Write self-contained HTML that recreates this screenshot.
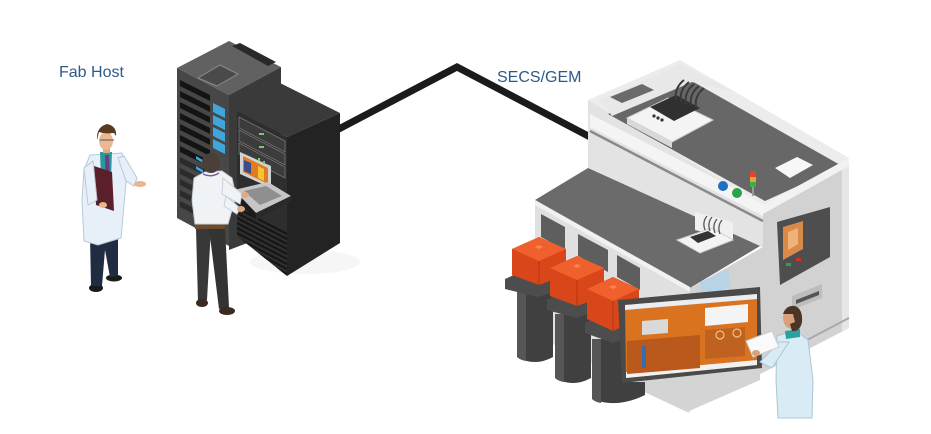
<!DOCTYPE html>
<html><head><meta charset="utf-8"><style>
html,body{margin:0;padding:0;background:#fff;}
svg{display:block}
text{font-family:"Liberation Sans",Arial,sans-serif;}
</style></head><body>
<svg width="931" height="434" viewBox="0 0 931 434" xmlns="http://www.w3.org/2000/svg">
<defs>
<clipPath id="rf"><polygon points="237,111 287,137 287,276 237,236"/></clipPath>
</defs>
<rect width="931" height="434" fill="#fff"/>

<!-- labels -->
<text x="59" y="77" font-size="16" fill="#2c5a8c">Fab Host</text>
<text x="497" y="82" font-size="16" fill="#2c5a8c">SECS/GEM</text>

<!-- cable -->
<polyline points="335,131 457,67 592,138" fill="none" stroke="#1b1b1b" stroke-width="7" stroke-linejoin="miter"/>

<!-- ===== LEFT RACK ===== -->
<polygon points="177,68 229,41 281,67 229,95" fill="#616161"/>
<polygon points="198,78 220,65 238,74 217,86" fill="#4a4a4a" stroke="#8c8c8c" stroke-width="1"/>
<polygon points="232,46 240,43 276,62 268,66" fill="#2a2a2a"/>
<polygon points="177,68 229,95 229,246 177,218" fill="#474747"/>
<polygon points="229,95 281,67 281,230 229,250" fill="#3a3a3a"/>
<g fill="#141414">
<polygon points="180,80 210,95 210,101 180,86"/>
<polygon points="180,91 210,106 210,112 180,97"/>
<polygon points="180,102 210,117 210,123 180,108"/>
<polygon points="180,113 210,128 210,134 180,119"/>
<polygon points="180,124 210,139 210,145 180,130"/>
<polygon points="180,135 210,150 210,156 180,141"/>
<polygon points="180,146 210,161 210,167 180,152"/>
</g>
<g fill="#2b2b2b">
<polygon points="180,157 210,172 210,178 180,163"/>
<polygon points="180,168 210,183 210,189 180,174"/>
<polygon points="180,179 210,194 210,200 180,185"/>
<polygon points="180,190 210,205 210,211 180,196"/>
<polygon points="180,201 210,216 210,222 180,207"/>
</g>
<g fill="#3ea6dc">
<polygon points="213,103 225,109 225,118 213,112"/>
<polygon points="213,115 225,121 225,130 213,124"/>
<polygon points="213,127 225,133 225,142 213,136"/>
<polygon points="213,139 225,145 225,154 213,148"/>
<polygon points="196,156 203,160 203,163 196,159"/>
<polygon points="196,166 203,170 203,173 196,169"/>
</g>

<!-- ===== RIGHT RACK ===== -->
<ellipse cx="305" cy="262" rx="55" ry="12" fill="#f6f6f6"/>
<polygon points="237,111 278,82 340,113 287,137" fill="#3a3a3a"/>
<polygon points="237,111 287,137 287,276 237,236" fill="#2e2e2e"/>
<polygon points="287,137 340,113 340,243 287,276" fill="#232323"/>
<g clip-path="url(#rf)">
<polygon points="239,117 285,141 285,152 239,128" fill="#3c3c3c" stroke="#777" stroke-width="0.8"/>
<polygon points="239,130 285,154 285,165 239,141" fill="#3c3c3c" stroke="#777" stroke-width="0.8"/>
<polygon points="239,143 285,167 285,178 239,154" fill="#3c3c3c" stroke="#777" stroke-width="0.8"/>
<rect x="259" y="133" width="5" height="2" fill="#6fd06f"/>
<rect x="259" y="146" width="5" height="2" fill="#6fd06f"/>
<g stroke="#151515" stroke-width="2">
<line x1="237" y1="208" x2="287" y2="234"/><line x1="237" y1="213" x2="287" y2="239"/>
<line x1="237" y1="218" x2="287" y2="244"/><line x1="237" y1="223" x2="287" y2="249"/>
<line x1="237" y1="228" x2="287" y2="254"/><line x1="237" y1="233" x2="287" y2="259"/>
<line x1="237" y1="238" x2="287" y2="264"/><line x1="237" y1="243" x2="287" y2="269"/>
<line x1="237" y1="248" x2="287" y2="274"/>
</g>
</g>
<!-- laptop -->
<polygon points="240,152 271,166 271,188 240,174" fill="#d2d2d2"/>
<polygon points="243,156 268,168 268,184 243,172" fill="#e07b22"/>
<polygon points="244,160 251,163 251,174 244,171" fill="#3a4c8c"/>
<polygon points="258,166 264,169 264,181 258,178" fill="#f3c532"/>
<rect x="258" y="158" width="2" height="3" fill="#6fd06f"/><rect x="263" y="161" width="2" height="3" fill="#6fd06f"/>
<polygon points="234,190 268,182 291,196 256,213" fill="#c6c6c6"/>
<polygon points="244,191 266,186 282,196 260,205" fill="#8f8f8f"/>
<polygon points="234,190 256,213 256,220 234,197" fill="#1c1c1c"/>
<polygon points="256,213 291,196 291,202 256,220" fill="#2a2a2a"/>

<!-- ===== LEFT PERSON ===== -->
<ellipse cx="96" cy="288" rx="7" ry="4" fill="#1b1b1b"/>
<ellipse cx="114" cy="278" rx="8" ry="3.5" fill="#1b1b1b"/>
<polygon points="90,236 118,234 118,276 110,277 105,250 102,286 91,286" fill="#1f2c42"/>
<polygon points="90,155 122,153 127,172 121,238 98,245 84,241 82,200 84,170" fill="#e7f0f8" stroke="#b7c9d9" stroke-width="1"/>
<polygon points="118,158 124,156 137,178 134,186 126,181" fill="#e7f0f8" stroke="#b7c9d9" stroke-width="1"/>
<ellipse cx="140" cy="184" rx="6" ry="3" fill="#e9b58f"/>
<polygon points="100,152 112,152 110,206 102,206" fill="#2a9a96"/>
<polygon points="105,155 109,155 110,190 106,195" fill="#6d3b8c"/>
<polygon points="94,166 112,172 114,211 96,205" fill="#5b1f29"/>
<polygon points="84,168 93,161 97,200 88,205" fill="#e7f0f8" stroke="#b7c9d9" stroke-width="1"/>
<ellipse cx="103" cy="205" rx="4" ry="3" fill="#e9b58f"/>
<rect x="103" y="145" width="7" height="8" fill="#e0a983"/>
<ellipse cx="106" cy="141" rx="7" ry="9" fill="#eab893"/>
<path d="M97,140 Q96,127 107,124 Q117,126 116,136 L114,133 Q105,134 99,132 Z" fill="#5b3a22"/>
<line x1="100" y1="140" x2="114" y2="140" stroke="#555" stroke-width="1"/>

<!-- ===== SERVER PERSON ===== -->
<polygon points="196,228 211,228 207,300 198,302" fill="#383838"/>
<polygon points="209,228 225,228 229,307 219,309" fill="#333"/>
<ellipse cx="202" cy="303" rx="6" ry="4" fill="#3a2a22"/>
<ellipse cx="227" cy="311" rx="8" ry="4" fill="#3a2a22"/>
<rect x="195" y="222" width="30" height="7" fill="#6e4b2c"/>
<polygon points="194,178 205,172 222,171 232,178 236,196 228,224 195,224 192,200" fill="#f0f3f6" stroke="#c7d0d8" stroke-width="1"/>
<polygon points="223,178 242,194 240,204 222,194" fill="#f0f3f6" stroke="#c7d0d8" stroke-width="1"/>
<polygon points="226,196 240,208 237,214 224,206" fill="#f0f3f6" stroke="#c7d0d8" stroke-width="1"/>
<ellipse cx="245" cy="195" rx="4" ry="3" fill="#e0a983"/>
<ellipse cx="241" cy="209" rx="4" ry="3" fill="#e0a983"/>
<path d="M203,174 Q211,178 219,173" fill="none" stroke="#7a5aa0" stroke-width="1.5"/>
<ellipse cx="211" cy="163" rx="9" ry="10" fill="#4b4038"/>

<!-- ===== MACHINE ===== -->
<!-- right face -->
<polygon points="763,205 849,158 849,328 687,412 687,290 763,247" fill="#d2d2d2"/>
<polygon points="842,163 849,158 849,328 842,332" fill="#e6e6e6"/>
<line x1="687" y1="403" x2="849" y2="318" stroke="#a9a9a9" stroke-width="2"/>
<!-- upper front face -->
<polygon points="588,100 763,205 763,248 588,168" fill="#e3e3e3"/>
<polygon points="590,114 763,203 763,216 590,127" fill="#f4f4f4"/>
<line x1="590" y1="131" x2="763" y2="221" stroke="#8a8a8a" stroke-width="2.5"/>
<!-- top -->
<polygon points="588,100 680,60 849,158 763,205" fill="#ececec"/>
<polygon points="608,114 690,80 842,166 765,201" fill="#676767"/>
<polygon points="600,100 680,64 735,92 692,82 612,116" fill="#e8e8e8"/>
<polygon points="610,97 642,84 654,90 622,103" fill="#6a6a6a"/>
<polygon points="763,205 849,158 849,166 763,214" fill="#f2f2f2"/>
<!-- top device -->
<polygon points="627,118 668,98 713,120 672,142" fill="#f4f4f4" stroke="#cfcfcf" stroke-width="1"/>
<polygon points="627,118 672,142 672,148 627,124" fill="#d8d8d8"/>
<polygon points="650,107 676,95 700,108 674,121" fill="#303030"/>
<circle cx="654" cy="116" r="1.6" fill="#333"/><circle cx="658" cy="118" r="1.6" fill="#333"/><circle cx="662" cy="120" r="1.6" fill="#333"/>
<g fill="none" stroke="#3a3a3a" stroke-width="2">
<path d="M676,100 Q674,88 684,80"/><path d="M681,102 Q679,90 689,82"/><path d="M686,104 Q684,92 694,84"/><path d="M691,106 Q689,94 699,86"/><path d="M696,108 Q694,96 704,88"/>
</g>
<polygon points="775,168 797,157 813,165 790,178" fill="#f7f7f7"/>
<circle cx="723" cy="186" r="5" fill="#1f6fc2"/>
<circle cx="737" cy="193" r="5" fill="#2aa34a"/>
<rect x="750" y="171" width="6" height="6" fill="#e0452a"/>
<rect x="750" y="177" width="6" height="5" fill="#e8a630"/>
<rect x="750" y="182" width="6" height="5" fill="#3fae4a"/>
<rect x="752" y="187" width="2" height="9" fill="#999"/>

<!-- lower block -->
<polygon points="535,203 690,290 690,413 535,335" fill="#e0e0e0"/>
<polygon points="535,200 588,168 760,246 690,288" fill="#6b6b6b"/>
<polygon points="535,200 690,287 690,292 535,205" fill="#f1f1f1"/>
<polygon points="541,214 565,227 565,250 541,237" fill="#5e5e5e"/>
<polygon points="578,234 608,250 608,272 578,256" fill="#5e5e5e"/>
<polygon points="617,255 640,268 640,290 617,277" fill="#5e5e5e"/>
<polygon points="700,282 729,269 730,287 702,298" fill="#b9d3e6"/>
<!-- right face details -->
<polygon points="777,222 830,207 830,257 780,285" fill="#4e4e4e"/>
<polygon points="783,227 803,221 803,249 783,260" fill="#d88a4a"/>
<polygon points="788,232 798,228 798,244 788,250" fill="#f0b27a"/>
<rect x="786" y="263" width="5" height="3" fill="#2aa34a"/><rect x="796" y="258" width="5" height="3" fill="#d23030"/>
<polygon points="792,296 822,284 822,298 792,310" fill="#bdbdbd"/>
<polygon points="796,300 819,291 819,295 796,304" fill="#555"/>
<!-- small device on lower top -->
<polygon points="695,212 733,222 733,240 695,230" fill="#f0f0f0"/>
<polygon points="677,240 712,228 733,240 700,253" fill="#f4f4f4" stroke="#cfcfcf" stroke-width="1"/>
<polygon points="690,237 708,231 716,236 698,243" fill="#333"/>
<g fill="none" stroke="#555" stroke-width="1.3">
<path d="M705,230 Q702,222 707,216"/><path d="M710,231 Q707,223 712,217"/><path d="M715,233 Q712,225 717,219"/><path d="M720,234 Q717,226 722,220"/>
</g>
<!-- base -->
<polygon points="640,378 760,365 760,380 687,412 640,390" fill="#d4d4d4"/>

<!-- containers -->
<g transform="translate(512,237)">
<path d="M5,55 L41,55 L41,120 Q23,130 5,120 Z" fill="#404040"/>
<path d="M5,55 L14,55 L14,124 Q8,123 5,120 Z" fill="#565656"/>
<polygon points="-7,42 24,28 56,40 56,50 26,60 -7,52" fill="#4d4d4d"/>
<polygon points="0,12 27,0 54,12 54,38 27,48 0,38" fill="#d9461a"/>
<polygon points="0,12 27,0 54,12 27,24" fill="#f0602d"/>
<line x1="27" y1="24" x2="27" y2="48" stroke="#b33510" stroke-width="1"/>
<polygon points="23,10 27,8 31,10 27,12" fill="#f7864f"/>
</g>
<g transform="translate(550,256)">
<path d="M5,58 L41,58 L41,122 Q23,132 5,122 Z" fill="#404040"/>
<path d="M5,58 L14,58 L14,126 Q8,125 5,122 Z" fill="#565656"/>
<polygon points="-3,44 24,30 54,42 54,52 26,62 -3,54" fill="#4d4d4d"/>
<polygon points="0,12 27,0 54,12 54,40 27,50 0,40" fill="#d9461a"/>
<polygon points="0,12 27,0 54,12 27,24" fill="#f0602d"/>
<line x1="27" y1="24" x2="27" y2="50" stroke="#b33510" stroke-width="1"/>
<polygon points="23,10 27,8 31,10 27,12" fill="#f7864f"/>
</g>
<g transform="translate(587,277)">
<path d="M5,62 L40,62 L40,105 L58,105 L58,118 Q30,132 5,122 Z" fill="#404040"/>
<path d="M5,62 L14,62 L14,126 Q8,125 5,122 Z" fill="#565656"/>
<polygon points="-2,46 24,32 52,44 52,56 26,66 -2,56" fill="#4d4d4d"/>
<polygon points="0,12 26,0 52,12 52,42 26,54 0,42" fill="#d9461a"/>
<polygon points="0,12 26,0 52,12 26,24" fill="#f0602d"/>
<line x1="26" y1="24" x2="26" y2="54" stroke="#b33510" stroke-width="1"/>
<polygon points="22,10 26,8 30,10 26,12" fill="#f7864f"/>
</g>

<!-- monitor -->
<polygon points="618,300 760,287 762,368 622,383" fill="#4a4a4a"/>
<polygon points="625,305 757,294 757,365 626,378" fill="#d9731f"/>
<polygon points="625,305 757,294 757,299 625,310" fill="#e9eef5"/>
<polygon points="626,372 757,360 757,365 626,378" fill="#f1f1f1"/>
<polygon points="627,341 700,335 700,368 627,374" fill="#b9591b"/>
<polygon points="642,321 668,319 668,333 642,335" fill="#d9d9d9"/>
<polygon points="705,308 748,304 748,322 705,326" fill="#f4f4f4"/>
<polygon points="705,330 745,327 745,356 705,359" fill="#c0621f"/>
<rect x="642" y="346" width="4" height="22" fill="#3a6ab0"/>
<circle cx="720" cy="335" r="4" fill="none" stroke="#f3c080" stroke-width="1.2"/>
<circle cx="737" cy="333" r="4" fill="none" stroke="#f3c080" stroke-width="1.2"/>

<!-- right person -->
<polygon points="777,336 795,330 808,340 813,380 812,418 778,418 776,380" fill="#d9ebf5" stroke="#a9c6d8" stroke-width="1"/>
<polygon points="785,331 800,329 800,337 786,339" fill="#2aa0a0"/>
<polygon points="779,342 789,342 772,368 760,362" fill="#d9ebf5" stroke="#a9c6d8" stroke-width="1"/>
<polygon points="746,341 772,331 779,347 753,357" fill="#fafafa" stroke="#cccccc" stroke-width="1"/>
<ellipse cx="756" cy="353" rx="4" ry="3" fill="#d9a07a"/>
<ellipse cx="792" cy="318" rx="9" ry="11" fill="#d9a07a"/>
<path d="M783,314 Q786,305 795,306 Q803,309 802,322 Q800,332 792,331 L790,324 L795,322 L793,314 Z" fill="#4a3526"/>
</svg>
</body></html>
